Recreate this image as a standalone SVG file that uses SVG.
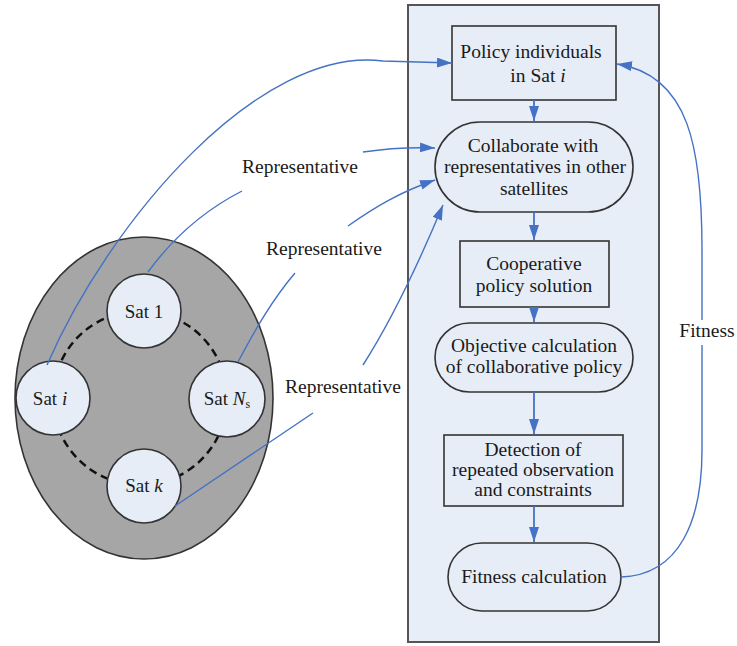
<svg xmlns="http://www.w3.org/2000/svg" width="737" height="646" viewBox="0 0 737 646" font-family="'Liberation Serif', 'Times New Roman', Times, serif">
<defs>
<marker id="ah" markerUnits="userSpaceOnUse" markerWidth="15" markerHeight="10" refX="15" refY="5" orient="auto"><path d="M0,0 L15,5 L0,10 z" fill="#4472c4"/></marker>
<style>
text{font-family:'Liberation Serif','Times New Roman',Times,serif;font-size:19.5px;fill:#1a1a1a;text-anchor:middle}
.sat text{font-size:19px}
.box{fill:#e6edf7;stroke:#333;stroke-width:1.6}
.conn{fill:none;stroke:#4472c4;stroke-width:1.4}
.flow{fill:none;stroke:#4472c4;stroke-width:1.8}
</style>
</defs>
<rect width="737" height="646" fill="#fff"/>
<g id="panel"><rect x="408" y="5" width="251" height="637" fill="#e8eef7" stroke="#555" stroke-width="2"/></g>
<g id="cluster">
<ellipse cx="144" cy="398" rx="129" ry="161" fill="#a6a6a6" stroke="#333" stroke-width="1.6"/>
<circle cx="140" cy="398" r="87" fill="none" stroke="#111" stroke-width="2.5" stroke-dasharray="8 5"/>
</g>
<g id="sat1" class="sat"><circle class="box" cx="144" cy="311" r="37"/><text x="144" y="318">Sat 1</text></g>
<g id="sati" class="sat"><circle class="box" cx="53" cy="398" r="37"/><text x="50" y="405">Sat <tspan font-style="italic">i</tspan></text></g>
<g id="satNs" class="sat"><circle class="box" cx="227" cy="399" r="38"/><text x="227" y="405">Sat <tspan font-style="italic">N</tspan><tspan font-size="12" dy="3">s</tspan></text></g>
<g id="satk" class="sat"><circle class="box" cx="144" cy="486" r="37"/><text x="144" y="492">Sat <tspan font-style="italic">k</tspan></text></g>
<g id="policy"><rect class="box" x="452" y="26" width="164" height="74"/><text x="531" y="58">Policy individuals</text><text x="538" y="82">in Sat <tspan font-style="italic">i</tspan></text></g>
<g id="collab"><rect class="box" x="435" y="122" width="198" height="90" rx="45"/><text x="533" y="152">Collaborate with</text><text x="535" y="173">representatives in other</text><text x="534" y="195">satellites</text></g>
<g id="coop"><rect class="box" x="460" y="241" width="149" height="66"/><text x="534" y="270">Cooperative</text><text x="534" y="292">policy solution</text></g>
<g id="objective"><rect class="box" x="435" y="323" width="198" height="69" rx="34.5"/><text x="534" y="352">Objective calculation</text><text x="534" y="373">of collaborative policy</text></g>
<g id="detect"><rect class="box" x="444" y="435" width="179" height="71"/><text x="533" y="456">Detection of</text><text x="533" y="476">repeated observation</text><text x="533" y="496">and constraints</text></g>
<g id="fitcalc"><rect class="box" x="448" y="543" width="173" height="68" rx="34"/><text x="534" y="583">Fitness calculation</text></g>
<g id="connectors">
<path class="flow" d="M534,100 L534,121" marker-end="url(#ah)"/>
<path class="flow" d="M534,212 L534,240" marker-end="url(#ah)"/>
<path class="flow" d="M534,307 L534,322" marker-end="url(#ah)"/>
<path class="flow" d="M534,392 L534,434" marker-end="url(#ah)"/>
<path class="flow" d="M534,506 L534,542" marker-end="url(#ah)"/>
<path class="conn" d="M47,365 C 110,220 260,45 383,61 L452,63" marker-end="url(#ah)"/>
<path class="conn" d="M148,272 C 175,235 205,210 242,191 M363,152 C 390,148 410,147 435,148" marker-end="url(#ah)"/>
<path class="conn" d="M238,362 C 255,330 272,300 295,273 M348,226 C 375,207 400,192 435,180" marker-end="url(#ah)"/>
<path class="conn" d="M175,506 L313,413 M363,365 C 395,315 420,260 443,205" marker-end="url(#ah)"/>
<path class="conn" d="M621,577 C 680,575 702,520 702,450 L702,345 M702,320 L702,250 C 702,150 690,75 617,64" marker-end="url(#ah)"/>
<text x="300" y="173">Representative</text>
<text x="324" y="255">Representative</text>
<text x="343" y="393">Representative</text>
<text x="707" y="337">Fitness</text>
</g>
</svg>
